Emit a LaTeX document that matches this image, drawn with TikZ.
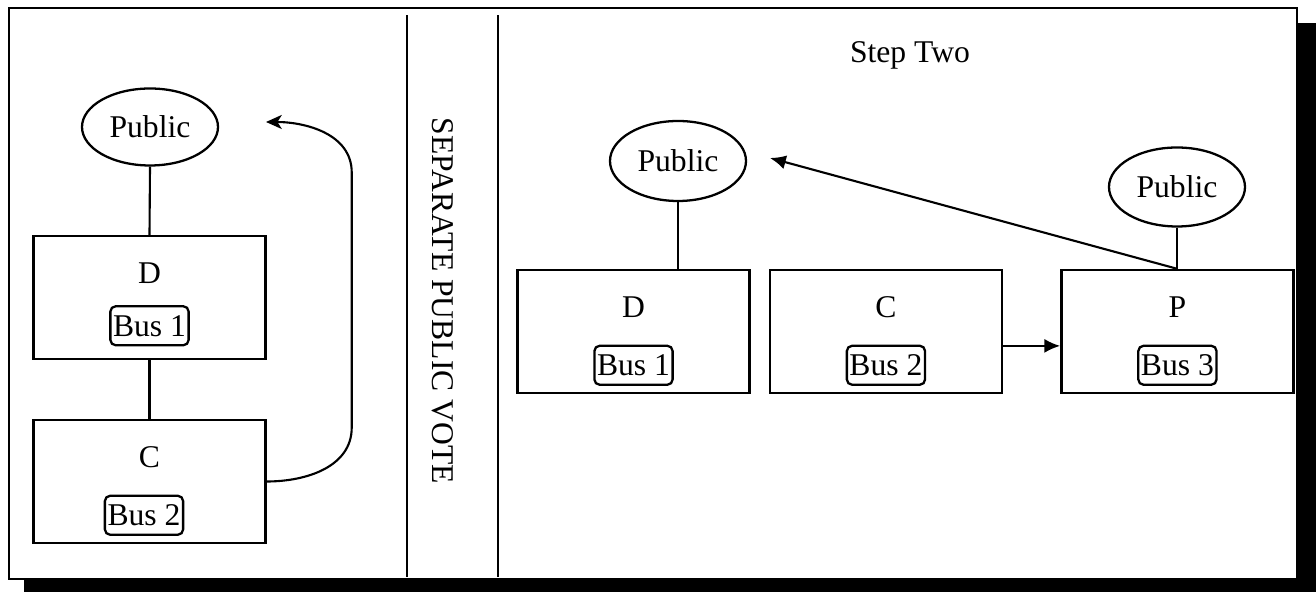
\documentclass[tikz,border=0pt]{standalone}
\usepackage{fontspec}
\setmainfont{Liberation Serif}
\usepackage{tikz}
\usetikzlibrary{arrows.meta, shapes.geometric, positioning}
\tikzset{partybox/.style={draw, rectangle, minimum width=4.64cm, minimum height=2.46cm, line width=1.4pt}}
\tikzset{busbox/.style={draw, rounded corners=3pt, inner xsep=1.5pt, inner ysep=0pt, minimum height=0.78cm, line width=1.3pt}}
\tikzset{pubnode/.style={draw, ellipse, inner sep=0pt, minimum width=2.72cm, minimum height=1.6cm, line width=1.3pt}}

\begin{document}
\begin{tikzpicture}[>={Stealth[length=9pt, width=8pt, inset=2.5pt]}, line width=1.2pt, every node/.style={font=\fontsize{18}{22}\selectfont}]
\useasboundingbox (0,0) rectangle (26.32,11.84);
% frame with shadow
\fill[black] (0.48,-0.2) rectangle (26.5,11.38);
\filldraw[fill=white, line width=1.4pt] (0.18,0.26) rectangle (25.94,11.68);
\draw[line width=1.4pt] (8.14,0.30) -- (8.14,11.54);
\draw[line width=1.4pt] (9.96,0.30) -- (9.96,11.54);
\node[rotate=-90] (vote) at (8.86,5.82) {SEPARATE PUBLIC VOTE};
% step one
\node[pubnode, minimum height=1.54cm] (pub1) at (3.00,9.30) {Public};
\node[partybox] (d1) at (2.99,5.89) {};
\node[partybox] (c1) at (2.99,2.21) {};
\node[below=0.76cm of d1.north, anchor=center] (d1t) {D};
\node[busbox, below=1.82cm of d1.north, anchor=center] (busD1) {Bus 1};
\node[below=0.76cm of c1.north, anchor=center] (c1t) {C};
\node[busbox, below=1.93cm of c1.north, anchor=center, xshift=-0.11cm] (busC1) {Bus 2};
\coordinate (tip1) at (5.32,9.40);
\draw (pub1.south) -- (d1.north);
\draw (d1.south) -- (c1.north);
\draw [->] (c1.east) to[out=0, in=-90] ++(1.7,1.08) -- ++(0,5.1) to[out=90, in=0] (tip1);
% step two
\node (step2) at (18.20,10.74) {Step Two};
\node[pubnode] (pub2) at (13.56,8.62) {Public};
\node[pubnode, minimum height=1.58cm] (pub3) at (23.54,8.10) {Public};
\node[partybox] (d2) at (12.67,5.21) {};
\node[partybox, right=0.36cm of d2] (c2) {};
\node[partybox, right=1.14cm of c2] (p2) {};
\node[below=0.76cm of d2.north, anchor=center] (d2t) {D};
\node[busbox, below=1.93cm of d2.north, anchor=center] (busD2) {Bus 1};
\node[below=0.76cm of c2.north, anchor=center] (c2t) {C};
\node[busbox, below=1.93cm of c2.north, anchor=center] (busC2) {Bus 2};
\node[below=0.76cm of p2.north, anchor=center] (p2t) {P};
\node[busbox, below=1.93cm of p2.north, anchor=center] (busP2) {Bus 3};
\coordinate (tip2) at (15.40,8.68);
\draw (pub2.south) -- (pub2.south |- d2.north);
\draw (pub3.south) -- (pub3.south |- p2.north);
\draw [-{Latex[length=9pt, width=8pt]}] (c2.-7.6) -- (p2.187.6);
\draw [-{Latex[length=9pt, width=8pt]}] (pub3.south |- p2.north) -- (tip2);
\end{tikzpicture}
\end{document}
